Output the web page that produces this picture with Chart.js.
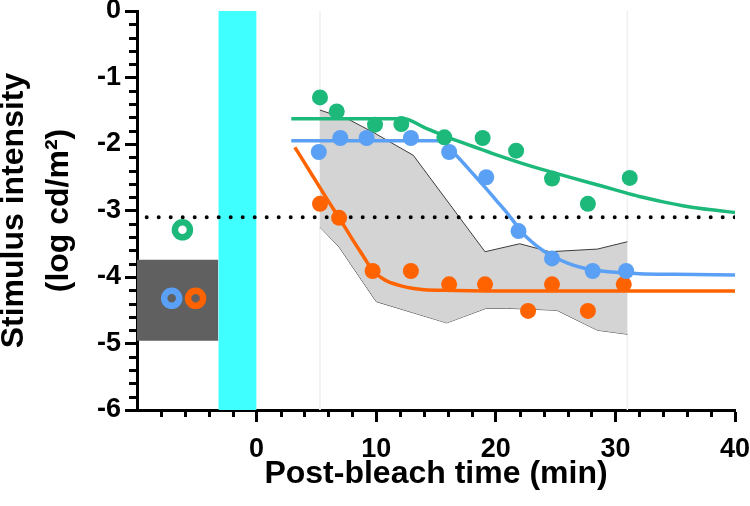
<!DOCTYPE html>
<html><head><meta charset="utf-8">
<script src="https://cdn.jsdelivr.net/npm/chart.js@4.4.0/dist/chart.umd.min.js"></script>
<style>html,body{margin:0;padding:0;background:#fff;}canvas{display:block;}</style>
</head><body>
<canvas id="c" width="750" height="506"></canvas>
<script>
// ---- data ----
const xTickLabels = ['0', '10', '20', '30', '40'];
const yTickLabels = ['0', '-1', '-2', '-3', '-4', '-5', '-6'];

const greenX  = [5.3, 6.7, 9.9, 12.1, 15.7, 18.9, 21.7, 24.7, 27.7, 31.2];
const greenY  = [-1.30, -1.51, -1.71, -1.70, -1.90, -1.91, -2.10, -2.52, -2.90, -2.51];
const blueX   = [5.2, 7.0, 9.2, 12.9, 16.1, 19.2, 21.9, 24.7, 28.1, 30.9];
const blueY   = [-2.12, -1.91, -1.91, -1.91, -2.12, -2.50, -3.31, -3.72, -3.91, -3.91];
const orangeX = [5.3, 6.9, 9.7, 12.9, 16.1, 19.1, 22.7, 24.7, 27.7, 30.7];
const orangeY = [-2.90, -3.11, -3.91, -3.91, -4.11, -4.11, -4.51, -4.11, -4.51, -4.11];

const greenFitX  = [2.9, 12.3, 14, 16, 18, 20, 22, 24, 26, 28, 30, 32, 34, 36, 38, 40];
const greenFitY  = [-1.62, -1.62, -1.75, -1.90, -2.03, -2.16, -2.28, -2.39, -2.49, -2.59, -2.69, -2.79, -2.87, -2.94, -2.99, -3.03];
const blueFitX   = [2.9, 15.5, 16.2, 17, 18, 19, 20, 21, 21.6, 22, 23, 24, 25, 26, 27, 28, 30, 32, 35, 40];
const blueFitY   = [-1.95, -1.95, -2.08, -2.23, -2.43, -2.63, -2.84, -3.05, -3.19, -3.29, -3.47, -3.61, -3.71, -3.79, -3.85, -3.89, -3.93, -3.95, -3.96, -3.97];
const orangeFitX = [3.2, 4, 5, 6, 7, 8, 9, 9.5, 10, 10.5, 11, 12, 13, 14, 16, 20, 40];
const orangeFitY = [-2.05, -2.28, -2.57, -2.86, -3.14, -3.43, -3.71, -3.85, -3.95, -4.02, -4.07, -4.13, -4.17, -4.19, -4.20, -4.21, -4.21];

const bandUpperX = [5.3, 7.8, 9.7, 13.1, 19.1, 22.0, 24.5, 28.5, 31.0];
const bandUpperY = [-1.49, -1.64, -1.82, -2.17, -3.62, -3.50, -3.62, -3.58, -3.47];
const bandLowerX = [5.3, 6.9, 10.0, 15.9, 19.2, 20.9, 25.1, 28.5, 31.0];
const bandLowerY = [-3.25, -3.55, -4.37, -4.69, -4.47, -4.47, -4.50, -4.80, -4.86];

const baselineX = [-7.1, -6.2, -5.1];   // blue, green, orange open circles
const baselineY = [-4.32, -3.29, -4.32];
const baselineRange = [-3.74, -4.96];   // dark grey box (y top, y bottom)
const baselineSpan = [-10, -3.2];       // dark grey box (x)
const bleachSpan = [-3.2, 0];           // cyan bleach bar (x)
const criterionY = -3.1;                // dotted line
const guideX = [5.3, 31.0];             // faint vertical guides

// ---- helpers ----
const pts = (xs, ys) => xs.map((x, i) => ({x: x, y: ys[i]}));
const GREEN = '#1DB97B', BLUE = '#5AA0F5', ORANGE = '#FF6300';
const FONT = "'Liberation Sans', Arial, Helvetica, sans-serif";

const minorTicks = {
  id: 'minorTicks',
  afterDraw(chart) {
    const {ctx, chartArea: a} = chart;
    const xs = chart.scales.x, ys = chart.scales.y;
    ctx.save();
    ctx.strokeStyle = '#000';
    ctx.lineWidth = 3;
    for (let k = -4; k < 20; k++) {
      const v = k * 2;
      if (v % 10 === 0) continue;
      const px = Math.round(xs.getPixelForValue(v)) + 0.5;
      ctx.beginPath(); ctx.moveTo(px, a.bottom); ctx.lineTo(px, a.bottom + 7); ctx.stroke();
    }
    for (let k = 1; k < 30; k++) {
      if (k % 5 === 0) continue;
      const py = Math.round(ys.getPixelForValue(-k * 0.2)) + 0.5;
      ctx.beginPath(); ctx.moveTo(a.left, py); ctx.lineTo(a.left - 8, py); ctx.stroke();
    }
    ctx.restore();
  }
};

const datasets = [
  // open circles (top)
  {data: pts(baselineX, baselineY), showLine: false, pointRadius: 7.5, pointHoverRadius: 7.5,
   pointBorderWidth: 6.5, pointBackgroundColor: 'rgba(0,0,0,0)',
   pointBorderColor: [BLUE, GREEN, ORANGE], order: 1},
  // filled dots
  {data: pts(greenX, greenY), showLine: false, pointRadius: 8, pointBorderWidth: 0,
   pointBackgroundColor: GREEN, pointBorderColor: GREEN, order: 2},
  {data: pts(blueX, blueY), showLine: false, pointRadius: 8, pointBorderWidth: 0,
   pointBackgroundColor: BLUE, pointBorderColor: BLUE, order: 3},
  {data: pts(orangeX, orangeY), showLine: false, pointRadius: 8, pointBorderWidth: 0,
   pointBackgroundColor: ORANGE, pointBorderColor: ORANGE, order: 4},
  // fits
  {data: pts(greenFitX, greenFitY), borderColor: GREEN, borderWidth: 3.5, pointRadius: 0,
   cubicInterpolationMode: 'monotone', fill: false, order: 6},
  {data: pts(blueFitX, blueFitY), borderColor: BLUE, borderWidth: 3.5, pointRadius: 0,
   cubicInterpolationMode: 'monotone', fill: false, order: 7},
  {data: pts(orangeFitX, orangeFitY), borderColor: ORANGE, borderWidth: 3.5, pointRadius: 0,
   cubicInterpolationMode: 'monotone', fill: false, order: 8},
  // dotted criterion line
  {data: pts([-10, 40], [criterionY, criterionY]), borderColor: '#000', borderWidth: 4,
   borderDash: [0, 12], borderDashOffset: 2.3, borderCapStyle: 'round', pointRadius: 0,
   fill: false, order: 12},
  // grey band
  {data: pts(bandUpperX, bandUpperY), borderColor: '#3c3c3c', borderWidth: 1, pointRadius: 0,
   backgroundColor: '#d4d4d4', fill: '+1', tension: 0, order: 15},
  {data: pts(bandLowerX, bandLowerY), borderColor: '#3c3c3c', borderWidth: 1, pointRadius: 0,
   fill: false, tension: 0, order: 15},
  // faint guides
  {data: pts([guideX[0], guideX[0]], [0, -6]), borderColor: '#f0f0f0', borderWidth: 1, pointRadius: 0, fill: false, order: 19},
  {data: pts([guideX[1], guideX[1]], [0, -6]), borderColor: '#f0f0f0', borderWidth: 1, pointRadius: 0, fill: false, order: 19},
  // dark baseline box
  {data: pts(baselineSpan, [baselineRange[0], baselineRange[0]]), borderWidth: 0, borderColor: 'rgba(0,0,0,0)',
   pointRadius: 0, backgroundColor: '#606060', fill: {value: baselineRange[1]}, order: 20},
  // cyan bleach bar
  {data: pts(bleachSpan, [0, 0]), borderWidth: 0, borderColor: 'rgba(0,0,0,0)',
   pointRadius: 0, backgroundColor: '#40FFFF', fill: {value: -6}, order: 20}
];

new Chart(document.getElementById('c'), {
  type: 'line',
  data: {datasets: datasets},
  options: {
    responsive: false,
    animation: false,
    devicePixelRatio: 1,
    layout: {autoPadding: false, padding: {top: 11, right: 15, bottom: 0, left: 0}},
    plugins: {legend: {display: false}, tooltip: {enabled: false}},
    events: [],
    scales: {
      x: {
        type: 'linear', min: -10, max: 40,
        afterBuildTicks: s => { s.ticks = [-10].concat(xTickLabels.map(Number)).map(v => ({value: v})); },
        ticks: {
          callback: v => (v === -10 ? '' : xTickLabels[xTickLabels.indexOf(String(v))]),
          font: {family: FONT, size: 27, weight: 'bold'}, color: '#000', padding: 11,
          maxRotation: 0, autoSkip: false
        },
        grid: {drawOnChartArea: false, drawTicks: true, tickLength: 12, tickWidth: 3,
               tickColor: c => (c.tick && c.tick.value === -10 ? 'rgba(0,0,0,0)' : '#000')},
        border: {display: true, width: 3, color: '#000'},
        title: {display: true, text: 'Post-bleach time (min)', color: '#000',
                font: {family: FONT, size: 32, weight: 'bold'}, padding: {top: 0, bottom: 13}},
        afterFit: s => { s.height = 96; s.paddingLeft = 0; s.paddingRight = 0; }
      },
      y: {
        type: 'linear', min: -6, max: 0,
        afterBuildTicks: s => { s.ticks = yTickLabels.map(Number).map(v => ({value: v})); },
        ticks: {
          callback: v => yTickLabels[yTickLabels.indexOf(String(v))],
          font: {family: FONT, size: 27, weight: 'bold', lineHeight: 0.7}, color: '#000', padding: 4, autoSkip: false
        },
        grid: {drawOnChartArea: false, drawTicks: true, tickLength: 12, tickWidth: 3, tickColor: '#000'},
        border: {display: true, width: 3, color: '#000'},
        title: {display: true, text: ['Stimulus intensity', '(log cd/m\u00B2)'], color: '#000',
                font: {family: FONT, size: 32, weight: 'bold', lineHeight: 1.4}, padding: {top: -8, bottom: 0}},
        afterFit: s => { s.width = 137; s.paddingTop = 0; s.paddingBottom = 0; }
      }
    }
  },
  plugins: [minorTicks]
});
</script>
</body></html>
